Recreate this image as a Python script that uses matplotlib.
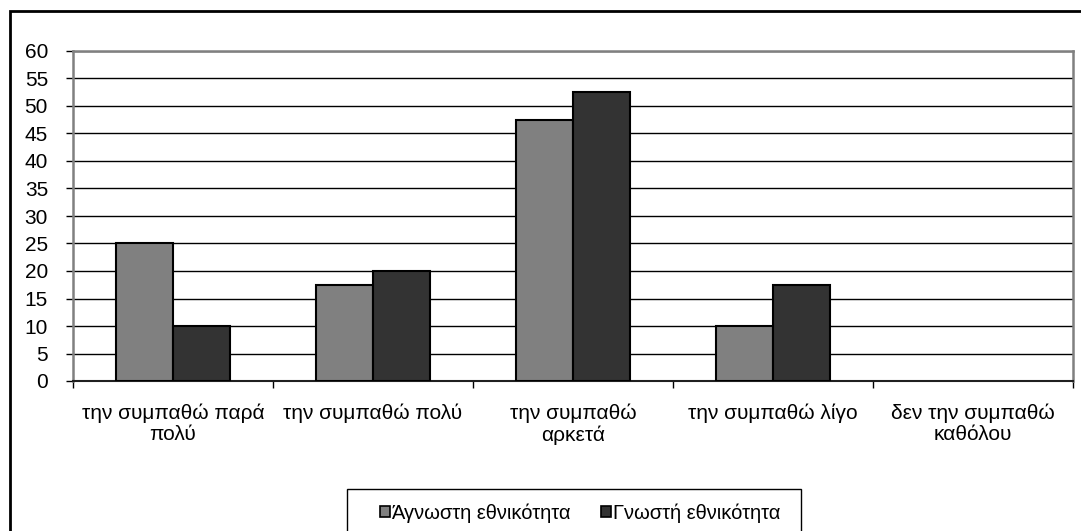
import matplotlib
matplotlib.use('Agg')
import matplotlib.pyplot as plt
from matplotlib.patches import Rectangle, Patch
import numpy as np

plt.rcParams['font.family'] = ['Liberation Sans', 'DejaVu Sans']

categories = ['την συμπαθώ παρά\nπολύ', 'την συμπαθώ πολύ', 'την συμπαθώ\nαρκετά',
              'την συμπαθώ λίγο', 'δεν την συμπαθώ\nκαθόλου']
unknown = [25, 17.5, 47.5, 10, 0]
known = [10, 20, 52.5, 17.5, 0]
series_names = ['Άγνωστη εθνικότητα', 'Γνωστή εθνικότητα']
series_colors = ['#808080', '#333333']
y_ticks = list(range(0, 65, 5))

W, H = 1081, 531
FS = 15
fig = plt.figure(figsize=(W / 100, H / 100), dpi=100)

# outer chart frame (only left and top visible, rest runs off the image)
fig.patches.append(Rectangle((9.5 / W, -0.2), 1.2, 1.2 - 11 / H,
                             transform=fig.transFigure, fill=False,
                             edgecolor='black', linewidth=2, zorder=0))

ax = fig.add_axes([73 / W, (H - 381) / H, 1000 / W, 330 / H])

x = np.arange(len(categories))
w = 0.285
for offset, vals, col in [(-w / 2, unknown, series_colors[0]), (w / 2, known, series_colors[1])]:
    bars = ax.bar(x + offset, vals, w, color=col, edgecolor='black', linewidth=1.5, zorder=3)
    for b, v in zip(bars, vals):
        if v == 0:
            b.set_visible(False)

ax.set_xlim(-0.5, len(categories) - 0.5)
ax.set_ylim(0, 60)
ax.set_yticks(y_ticks)
ax.yaxis.grid(True, color='black', linewidth=1)
ax.set_axisbelow(True)

ax.set_xticks(x)
ax.set_xticklabels(categories, fontsize=FS, linespacing=1.15)
ax.tick_params(axis='x', which='major', length=0, pad=16)
ax.set_xticks(np.arange(-0.5, len(categories), 1), minor=True)
ax.tick_params(axis='x', which='minor', length=5, width=1, color='black', direction='out')
ax.tick_params(axis='y', labelsize=FS, length=5, width=1, color='black', pad=13)

for side in ['left', 'top', 'right']:
    ax.spines[side].set_color('#808080')
    ax.spines[side].set_linewidth(1.8)
ax.spines['bottom'].set_color('#202020')
ax.spines['bottom'].set_linewidth(1.5)

# legend box (bottom edge runs off the image)
fig.patches.append(Rectangle((347 / W, -0.2), (801 - 347) / W, 0.2 + (H - 489) / H,
                             transform=fig.transFigure, fill=False,
                             edgecolor='black', linewidth=1, zorder=1))
handles = [Patch(facecolor=c, edgecolor='black', linewidth=1.2) for c in series_colors]
fig.legend(handles, series_names, loc='center', bbox_to_anchor=(580 / W, (H - 513) / H),
           ncol=2, frameon=False, fontsize=14.5, handlelength=0.5, handleheight=0.5,
           handletextpad=0.08, columnspacing=1.5)

fig.savefig('out.png', dpi=100)
